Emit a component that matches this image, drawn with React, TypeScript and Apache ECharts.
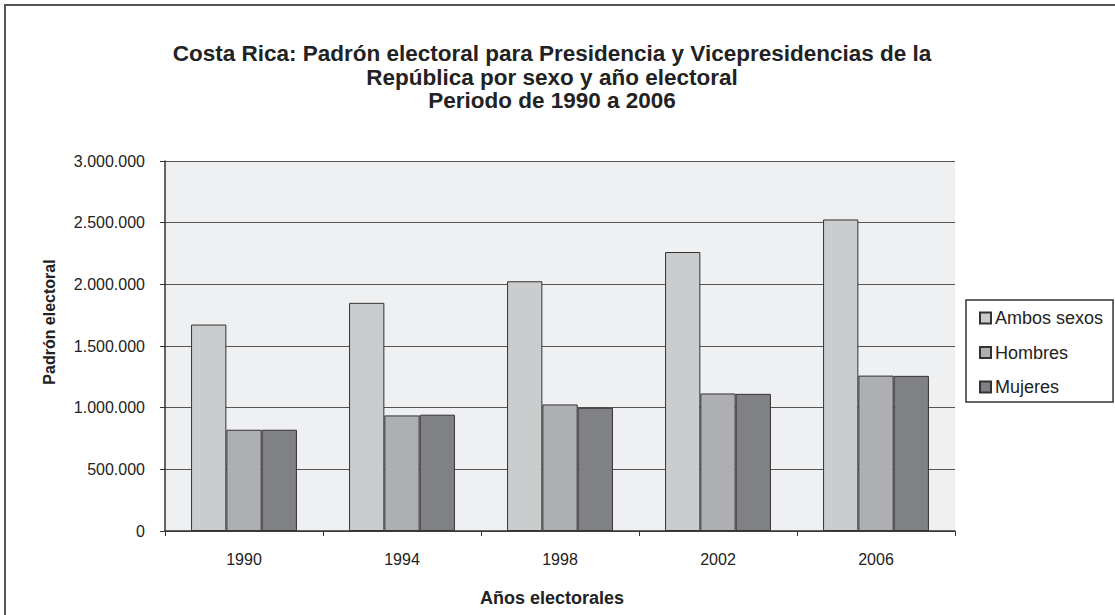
import React, { useEffect, useRef } from "react";
import * as echarts from "echarts";

// Electoral roll by sex and election year
const years = ["1990", "1994", "1998", "2002", "2006"];
const ambosSexos = [1674000, 1850000, 2025000, 2262000, 2526000];
const hombres = [821000, 937000, 1026000, 1115000, 1260000];
const mujeres = [821000, 943000, 999000, 1112000, 1258000];
const seriesNames = ["Ambos sexos", "Hombres", "Mujeres"];
const seriesColors = ["#cbccce", "#aeafb2", "#808184"];

const FONT = "Arial, 'Liberation Sans', sans-serif";

const fmt = (v: number) => String(v).replace(/\B(?=(\d{3})+(?!\d))/g, ".");

export default function App() {
  const ref = useRef<HTMLDivElement>(null);

  useEffect(() => {
    document.body.style.margin = "0";
    if (!ref.current) return;
    const chart = echarts.init(ref.current, null, { renderer: "svg" });
    const values = [ambosSexos, hombres, mujeres];

    chart.setOption({
      animation: false,
      backgroundColor: "#ffffff",
      textStyle: { fontFamily: FONT },
      title: {
        text:
          "Costa Rica: Padrón electoral para Presidencia y Vicepresidencias de la\nRepública por sexo y año electoral\nPeriodo de 1990 a 2006",
        left: 547,
        top: 37,
        textAlign: "center",
        textStyle: {
          fontFamily: FONT,
          fontSize: 22.5,
          fontWeight: "bold",
          color: "#222222",
          lineHeight: 23.5,
        },
      },
      graphic: [
        {
          type: "rect",
          z: -10,
          silent: true,
          shape: { x: 5, y: 5, width: 1200, height: 700 },
          style: { fill: "none", stroke: "#555555", lineWidth: 2 },
        },
        {
          type: "text",
          x: 49,
          y: 322,
          rotation: Math.PI / 2,
          style: {
            text: "Padrón electoral",
            font: `bold 16px ${FONT}`,
            fill: "#222222",
            textAlign: "center",
            textVerticalAlign: "middle",
          },
        },
        {
          type: "text",
          x: 552,
          y: 598,
          style: {
            text: "Años electorales",
            font: `bold 18px ${FONT}`,
            fill: "#222222",
            textAlign: "center",
            textVerticalAlign: "middle",
          },
        },
      ],
      legend: {
        orient: "vertical",
        left: 966,
        top: 300,
        padding: [9, 10, 6, 13],
        itemWidth: 11,
        itemHeight: 11,
        itemGap: 16.5,
        backgroundColor: "#ffffff",
        borderColor: "#333333",
        borderWidth: 1.5,
        icon: "rect",
        textStyle: {
          fontFamily: FONT,
          fontSize: 18,
          lineHeight: 18,
          color: "#222222",
          padding: [0, 0, 0, -1],
        },
        data: seriesNames,
      },
      grid: {
        left: 165,
        top: 161,
        right: 160,
        bottom: 84,
        show: true,
        backgroundColor: "#eff0f2",
        borderWidth: 0,
      },
      xAxis: {
        type: "category",
        data: years,
        axisLine: { show: true, lineStyle: { color: "#333333", width: 1.5 } },
        axisTick: { show: true, length: 5, inside: false, lineStyle: { color: "#333333" } },
        axisLabel: { fontFamily: FONT, fontSize: 16, color: "#222222", margin: 20 },
        splitLine: { show: false },
      },
      yAxis: {
        type: "value",
        min: 0,
        max: 3000000,
        interval: 500000,
        axisLine: { show: true, lineStyle: { color: "#333333", width: 1.5 } },
        axisTick: { show: true, length: 5, lineStyle: { color: "#333333" } },
        axisLabel: {
          fontFamily: FONT,
          fontSize: 16,
          color: "#222222",
          margin: 20,
          formatter: (v: number) => fmt(v),
        },
        splitLine: { show: true, lineStyle: { color: "#555555", width: 1.2 } },
      },
      series: seriesNames.map((name, i) => ({
        name,
        type: "bar",
        data: values[i],
        barGap: "0%",
        barCategoryGap: "33%",
        itemStyle: { color: seriesColors[i], borderColor: "#333333", borderWidth: 1 },
      })),
    });

    return () => chart.dispose();
  }, []);

  return <div ref={ref} style={{ width: 1115, height: 615 }} />;
}
